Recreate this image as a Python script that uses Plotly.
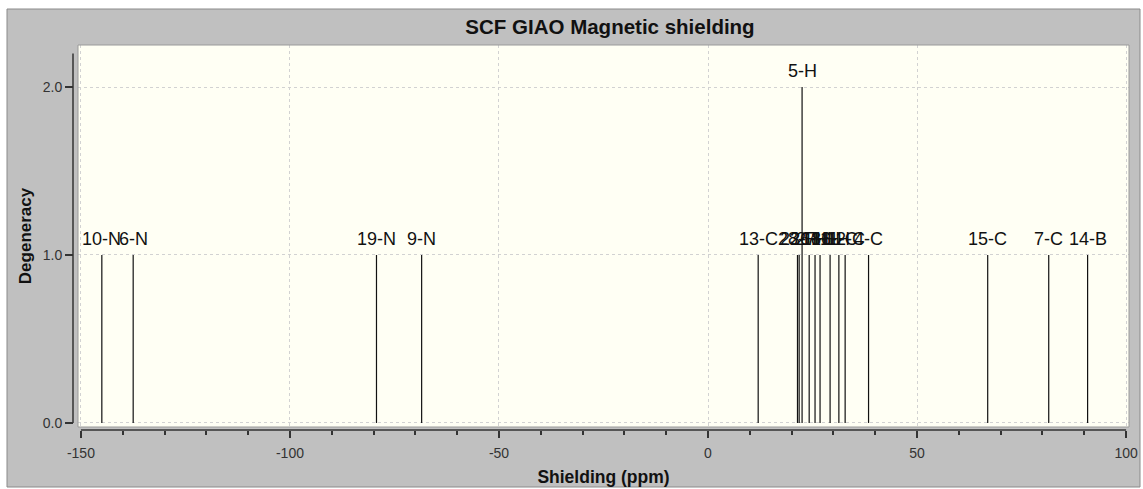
import plotly.graph_objects as go

# ---- data ----
labels = ["10-N", "6-N", "19-N", "9-N", "13-C", "28-H", "23-H", "5-H", "26-H",
          "27-H", "18-H", "16-H", "11-C", "12-C", "4-C", "15-C", "7-C", "14-B"]
shielding = [-145.0, -137.5, -79.3, -68.5, 12.0, 21.4, 21.8, 22.5, 24.2,
             25.6, 26.8, 29.2, 31.3, 32.8, 38.4, 66.9, 81.5, 90.8]
degeneracy = [1, 1, 1, 1, 1, 1, 1, 2, 1, 1, 1, 1, 1, 1, 1, 1, 1, 1]
x_ticks = [-150, -100, -50, 0, 50, 100]
x_tick_text = ["-150", "-100", "-50", "0", "50", "100"]
y_ticks = [0, 1, 2]
y_tick_text = ["0.0", "1.0", "2.0"]

# ---- layout geometry ----
W, H = 1143, 489
ML, MR, MT, MB = 73, 14, 45, 59
PW, PH = W - ML - MR, H - MT - MB
FONT = "Liberation Sans, Arial, Helvetica, sans-serif"


def fx(px):
    return (px - ML) / PW


def fy(py):
    return (H - MB - py) / PH


xs, ys = [], []
for v, d in zip(shielding, degeneracy):
    xs += [v, v, None]
    ys += [0, d, None]

fig = go.Figure()
fig.add_trace(go.Scatter(x=xs, y=ys, mode="lines",
                         line=dict(color="#111111", width=1.2),
                         hoverinfo="skip", showlegend=False))

annotations = []
for name, v, d in zip(labels, shielding, degeneracy):
    annotations.append(dict(x=v, y=d, xref="x", yref="y", text=name,
                            showarrow=False, yanchor="bottom", xanchor="center",
                            yshift=4, font=dict(family=FONT, size=18, color="#111111")))

shapes = [
    # white strips around the grey panel
    dict(type="rect", xref="paper", yref="paper", x0=fx(0), x1=fx(7), y0=fy(H), y1=fy(0),
         fillcolor="white", line=dict(width=0), layer="above"),
    dict(type="rect", xref="paper", yref="paper", x0=fx(0), x1=fx(W), y0=fy(9), y1=fy(0),
         fillcolor="white", line=dict(width=0), layer="above"),
    dict(type="rect", xref="paper", yref="paper", x0=fx(1140), x1=fx(W), y0=fy(H), y1=fy(0),
         fillcolor="white", line=dict(width=0), layer="above"),
    dict(type="rect", xref="paper", yref="paper", x0=fx(0), x1=fx(W), y0=fy(H), y1=fy(487),
         fillcolor="white", line=dict(width=0), layer="above"),
    # panel outline
    dict(type="rect", xref="paper", yref="paper", x0=fx(7), x1=fx(1140), y0=fy(487), y1=fy(9),
         fillcolor="rgba(0,0,0,0)", line=dict(color="#8a8a8a", width=1), layer="above"),
    # plot area border
    dict(type="rect", xref="x domain", yref="y domain", x0=0, x1=1, y0=0, y1=1,
         fillcolor="rgba(0,0,0,0)", line=dict(color="#9a9a9a", width=1), layer="above"),
    # range-frame axis lines
    dict(type="line", xref="x", yref="paper", x0=x_ticks[0], x1=x_ticks[-1], y0=0, y1=0,
         line=dict(color="#333333", width=1.5)),
    dict(type="line", xref="paper", yref="y", x0=0, x1=0, y0=y_ticks[0], y1=2.2,
         line=dict(color="#333333", width=1.5)),
]

fig.update_layout(
    width=W, height=H,
    margin=dict(l=ML, r=MR, t=MT, b=MB, pad=0, autoexpand=False),
    paper_bgcolor="#c0c0c0",
    plot_bgcolor="#fffff4",
    font=dict(family=FONT, color="#333333"),
    title=dict(text="SCF GIAO Magnetic shielding", x=610 / W, xanchor="center",
               y=1 - 27 / H, yanchor="middle",
               font=dict(family=FONT, size=20.5, color="#111111", weight="bold")),
    xaxis=dict(range=[-150.7, 100.7], domain=[5 / PW, 1], anchor="free", position=0,
               automargin=False,
               tickmode="array", tickvals=x_ticks, ticktext=x_tick_text,
               ticks="outside", ticklen=7, ticklabelstandoff=3,
               tickwidth=1.5, tickcolor="#333333",
               tickfont=dict(size=14, color="#333333"),
               showline=False, zeroline=False,
               showgrid=True, gridcolor="#d2d2d2", griddash="3px,3px", gridwidth=1,
               minor=dict(tickmode="linear", tick0=0, dtick=10, ticks="outside",
                          ticklen=4, tickwidth=1.5, tickcolor="#333333", showgrid=False),
               title=dict(text="Shielding (ppm)", standoff=10,
                          font=dict(family=FONT, size=17.5, color="#111111", weight="bold"))),
    yaxis=dict(range=[-0.024, 2.25], domain=[3 / PH, 1], anchor="free", position=0,
               automargin=False,
               tickmode="array", tickvals=y_ticks, ticktext=y_tick_text,
               ticks="outside", ticklen=8, tickwidth=1.5, tickcolor="#333333",
               tickfont=dict(size=14, color="#333333"),
               showline=False, zeroline=False,
               showgrid=True, gridcolor="#d2d2d2", griddash="3px,3px", gridwidth=1,
               title=dict(text="Degeneracy", standoff=5,
                          font=dict(family=FONT, size=17, color="#111111", weight="bold"))),
    shapes=shapes,
    annotations=annotations,
)

fig.write_html("out.html")
